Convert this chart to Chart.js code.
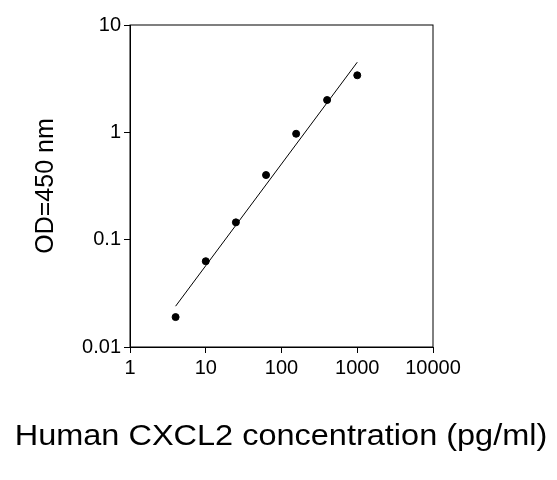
<!DOCTYPE html>
<html><head>
<script src="https://cdn.jsdelivr.net/npm/chart.js@4/dist/chart.umd.min.js"></script>
<style>body{margin:0;background:#fff}</style>
</head><body>
<canvas id="c" width="557" height="480"></canvas>
<script>
const concX = [4, 10, 25, 62.5, 156, 400, 1000];
const odY = [0.019, 0.063, 0.145, 0.4, 0.97, 2.0, 3.4];
const fitX = [4, 1000];
const fitY = [0.024, 4.5];
const xTicks = [1, 10, 100, 1000, 10000];
const yTicks = [0.01, 0.1, 1, 10];
const xTitle = "Human CXCL2 concentration (pg/ml)";

const boxPlugin = {
  id: "box",
  afterDraw(chart) {
    const { ctx, chartArea: a } = chart;
    ctx.save();
    ctx.strokeStyle = "#000";
    ctx.lineWidth = 1;
    ctx.strokeRect(a.left, a.top, a.right - a.left, a.bottom - a.top);
    // x title, slightly stretched like the original
    ctx.translate(281, 437);
    ctx.scale(1.12, 1);
    ctx.fillStyle = "#000";
    ctx.font = "29px 'Liberation Sans'";
    ctx.textAlign = "center";
    ctx.textBaseline = "middle";
    ctx.fillText(xTitle, 0, 0);
    ctx.restore();
  },
};

const axisCommon = {
  type: "logarithmic",
  grid: { drawOnChartArea: false, color: "#000", tickLength: 6 },
  border: { color: "#000" },
  ticks: { color: "#000", font: { family: "Liberation Sans", size: 20 }, autoSkip: false, maxRotation: 0, callback: v => String(v) },
};

new Chart(document.getElementById("c"), {
  type: "scatter",
  data: {
    datasets: [
      { data: concX.map((x, i) => ({ x, y: odY[i] })), backgroundColor: "#000", borderColor: "#000", pointRadius: 3.5 },
      { type: "line", data: fitX.map((x, i) => ({ x, y: fitY[i] })), borderColor: "#000", borderWidth: 1, pointRadius: 0 },
    ],
  },
  options: {
    responsive: false,
    animation: false,
    layout: { padding: { left: 0, right: 124, top: 25, bottom: 30 } },
    plugins: { legend: { display: false }, tooltip: { enabled: false } },
    scales: {
      x: {
        ...axisCommon,
        min: 1, max: 10000,
        afterBuildTicks: s => { s.ticks = xTicks.map(v => ({ value: v })); },
        afterFit: s => { s.height = 103; },
      },
      y: {
        ...axisCommon,
        min: 0.01, max: 10,
        afterBuildTicks: s => { s.ticks = yTicks.map(v => ({ value: v })); },
        afterFit: s => { s.width = 130; },
        title: { display: true, text: "OD=450 nm", color: "#000", font: { family: "Liberation Sans", size: 25 }, padding: { top: 31, bottom: 0 } },
      },
    },
  },
  plugins: [boxPlugin],
});
</script>
</body></html>
